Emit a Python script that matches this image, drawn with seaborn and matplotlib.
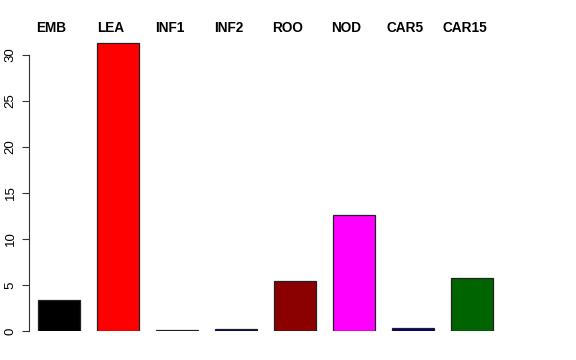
import seaborn as sns
from matplotlib import pyplot as plt
import matplotlib.transforms as mtransforms
import pandas as pd

# tissue samples and their values
tissues = ["EMB", "LEA", "INF1", "INF2", "ROO", "NOD", "CAR5", "CAR15"]
values = [3.35, 31.3, 0.08, 0.2, 5.45, 12.6, 0.35, 5.75]
bar_colors = ["#000000", "#FF0000", "#2F4F4F", "#000080",
              "#8B0000", "#FF00FF", "#000080", "#006400"]
y_ticks = [0, 5, 10, 15, 20, 25, 30]

sns.set_style("white")
plt.rcParams['font.family'] = ['Liberation Sans', 'DejaVu Sans']
plt.rcParams['text.color'] = 'black'
plt.rcParams['ytick.color'] = 'black'

df = pd.DataFrame({"tissue": tissues, "value": values})

fig = plt.figure(figsize=(5.76, 3.6), dpi=100)
# axes placed so the left spine sits where R draws its y axis
ax = fig.add_axes([29 / 576, 29 / 360, 520 / 576, 294.4 / 360])

sns.barplot(
    data=df, x="tissue", y="value", hue="tissue",
    palette=bar_colors, legend=False, width=0.71,
    edgecolor="#222222", linewidth=0.9, saturation=1, ax=ax
)

ax.set_xlim(-0.51, -0.51 + 520 / 59)
ax.set_ylim(0, 32)
ax.set_xlabel("")
ax.set_ylabel("")
ax.set_xticks([])
ax.set_yticks(y_ticks)
ax.set_yticklabels([str(t) for t in y_ticks], rotation=90, va="center", fontsize=9.5)
ax.tick_params(axis="y", direction="out", length=5, width=0.8,
               color="#333333", labelcolor="black", pad=4, left=True)

for side in ["top", "right", "bottom"]:
    ax.spines[side].set_visible(False)
ax.spines["left"].set_bounds(0, 30)
ax.spines["left"].set_color("#333333")
ax.spines["left"].set_linewidth(0.8)

# sample names printed above the bars
trans = mtransforms.blended_transform_factory(ax.transData, fig.transFigure)
for i, name in enumerate(tissues):
    ax.text(i - 0.13, 1 - 28 / 360, name, transform=trans, color="black",
            ha="center", va="center", fontsize=9.8, fontweight="bold")

fig.savefig("out.png", dpi=100)
